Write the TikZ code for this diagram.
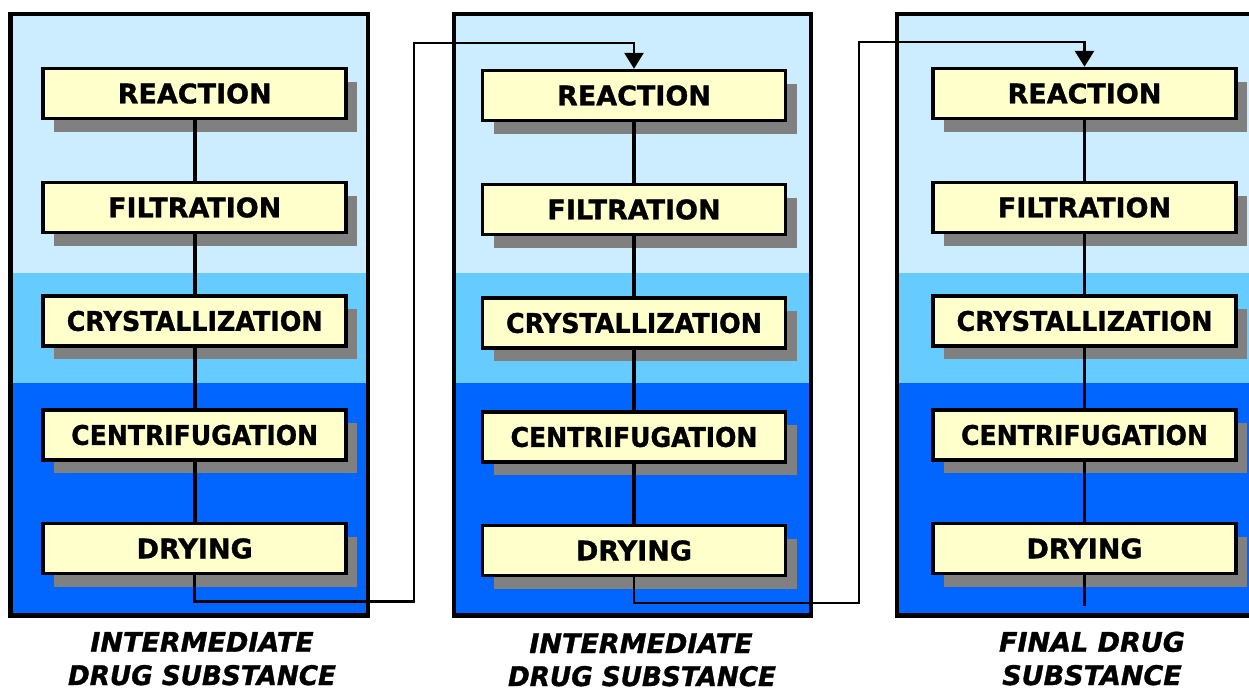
\documentclass[tikz,border=0pt]{standalone}
\usepackage{fontspec}
\setmainfont{DejaVu Sans}[BoldFeatures={FakeBold=1.2},BoldItalicFeatures={FakeBold=1.2}]
\usetikzlibrary{arrows.meta,shadows}
\definecolor{lightbg}{HTML}{CCECFF}
\definecolor{midbg}{HTML}{66CCFF}
\definecolor{darkbg}{HTML}{0066FF}
\definecolor{boxfill}{HTML}{FFFFCC}
\definecolor{shadowgray}{HTML}{808080}
\newcommand{\sqz}[2]{\scalebox{#1}[1]{#2}}
\begin{document}
\begin{tikzpicture}[x=0.75pt,y=-0.75pt,
  stepbox/.style={draw, line width=2.6pt, fill=boxfill, minimum width=227.25pt,
    minimum height=37.5pt, inner sep=0pt, font=\bfseries\fontsize{20.25}{24}\selectfont,
    general shadow={fill=shadowgray, shadow xshift=8.25pt, shadow yshift=-9.75pt}},
  link/.style={line width=2.8pt},
  route/.style={line width=2.2pt},
  frame/.style={line width=3.4pt},
  caption/.style={font=\bfseries\itshape\fontsize{20.25}{25}\selectfont, anchor=base, inner sep=0pt},
  tip/.style={-{Triangle[length=12pt,width=14.25pt]}}]
\clip (0,0) rectangle (1249,690);
\fill[white] (0,0) rectangle (1249,690);
% column backgrounds and frames
\foreach \l/\r in {10.7/368, 454/811, 897/1262} {
  \fill[lightbg] (\l,14) rectangle (\r,272.7);
  \fill[midbg] (\l,272.7) rectangle (\r,382.7);
  \fill[darkbg] (\l,382.7) rectangle (\r,615.5);
  \draw[frame] (\l,14) rectangle (\r,615.5);
}
% column 1
\node[stepbox] (r1) at (194.7,93.5) {REACTION};
\node[stepbox] (f1) at (194.7,207.5) {FILTRATION};
\node[stepbox] (c1) at (194.7,321) {\sqz{0.94}{CRYSTALLIZATION}};
\node[stepbox] (g1) at (194.7,435) {\sqz{0.93}{CENTRIFUGATION}};
\node[stepbox] (d1) at (194.7,548.5) {DRYING};
% column 2
\node[stepbox] (r2) at (634,95.5) {REACTION};
\node[stepbox] (f2) at (634,209.5) {FILTRATION};
\node[stepbox] (c2) at (634,323) {\sqz{0.94}{CRYSTALLIZATION}};
\node[stepbox] (g2) at (634,437) {\sqz{0.93}{CENTRIFUGATION}};
\node[stepbox] (d2) at (634,550.5) {DRYING};
% column 3
\node[stepbox] (r3) at (1084.5,93.5) {REACTION};
\node[stepbox] (f3) at (1084.5,207.5) {FILTRATION};
\node[stepbox] (c3) at (1084.5,321) {\sqz{0.94}{CRYSTALLIZATION}};
\node[stepbox] (g3) at (1084.5,435) {\sqz{0.93}{CENTRIFUGATION}};
\node[stepbox] (d3) at (1084.5,548.5) {DRYING};
% links within columns
\foreach \i in {1,2,3} {
  \draw[link] (r\i) -- (f\i);
  \draw[link] (f\i) -- (c\i);
  \draw[link] (c\i) -- (g\i);
  \draw[link] (g\i) -- (d\i);
}
% routes between columns
\coordinate (t1a) at (414,601.7);
\coordinate (t1b) at (634,43);
\draw[route,tip] (d1.south) |- (t1a) |- (t1b) -- (r2.north);
\coordinate (t2a) at (859,603);
\coordinate (t2b) at (1084.5,42);
\draw[route,tip] (d2.south) |- (t2a) |- (t2b) -- (r3.north);
\coordinate (t3) at (1084.5,606);
\draw[link] (d3.south) -- (t3);
% captions
\node[caption] (cap1a) at (202,651.7) {INTERMEDIATE};
\node[caption] (cap1b) at (202,685) {\sqz{0.97}{DRUG SUBSTANCE}};
\node[caption] (cap2a) at (641,653) {INTERMEDIATE};
\node[caption] (cap2b) at (642,686) {\sqz{0.97}{DRUG SUBSTANCE}};
\node[caption] (cap3a) at (1092,651.7) {FINAL DRUG};
\node[caption] (cap3b) at (1092,685) {SUBSTANCE};
\end{tikzpicture}
\end{document}
